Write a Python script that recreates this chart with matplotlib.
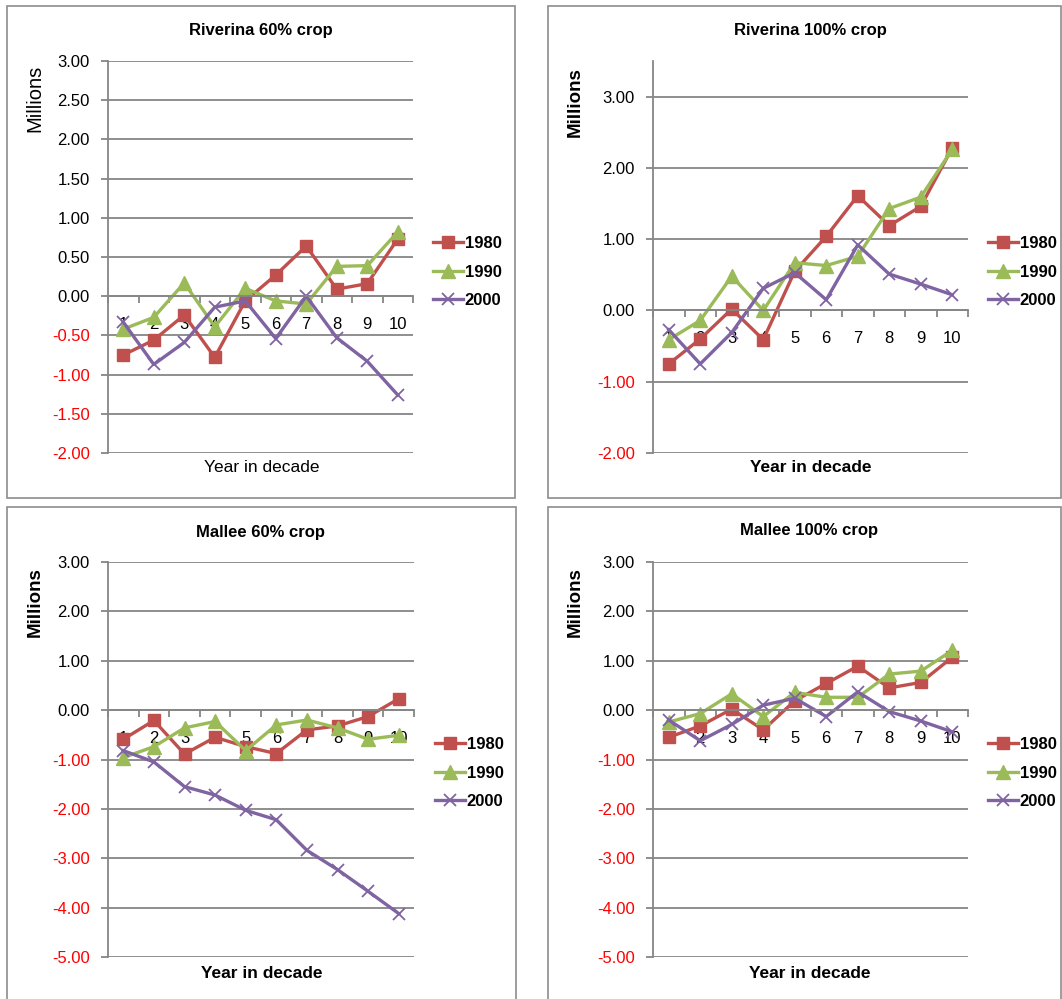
import matplotlib
matplotlib.use("Agg")
import matplotlib.pyplot as plt
from matplotlib.patches import Rectangle
from matplotlib.ticker import FuncFormatter

plt.rcParams['font.family'] = ['Liberation Sans', 'DejaVu Sans']

# Data (millions)
years = list(range(1, 11))
series_names = ["1980", "1990", "2000"]

riverina60_1980 = [-0.75, -0.56, -0.24, -0.78, -0.06, 0.27, 0.64, 0.09, 0.16, 0.73]
riverina60_1990 = [-0.42, -0.27, 0.17, -0.39, 0.10, -0.06, -0.10, 0.38, 0.39, 0.82]
riverina60_2000 = [-0.33, -0.87, -0.59, -0.14, -0.06, -0.54, 0.00, -0.53, -0.83, -1.26]

riverina100_1980 = [-0.75, -0.40, 0.02, -0.41, 0.55, 1.04, 1.61, 1.19, 1.46, 2.28]
riverina100_1990 = [-0.41, -0.14, 0.48, 0.00, 0.67, 0.63, 0.76, 1.43, 1.59, 2.26]
riverina100_2000 = [-0.27, -0.75, -0.31, 0.31, 0.53, 0.15, 0.92, 0.51, 0.37, 0.22]

mallee60_1980 = [-0.59, -0.21, -0.89, -0.55, -0.74, -0.88, -0.40, -0.32, -0.13, 0.23]
mallee60_1990 = [-0.96, -0.74, -0.36, -0.23, -0.82, -0.30, -0.20, -0.36, -0.59, -0.51]
mallee60_2000 = [-0.82, -1.05, -1.55, -1.72, -2.03, -2.22, -2.84, -3.23, -3.67, -4.12]

mallee100_1980 = [-0.55, -0.32, 0.02, -0.40, 0.19, 0.54, 0.89, 0.45, 0.56, 1.07]
mallee100_1990 = [-0.24, -0.07, 0.33, -0.13, 0.36, 0.26, 0.26, 0.73, 0.79, 1.21]
mallee100_2000 = [-0.20, -0.62, -0.29, 0.10, 0.24, -0.13, 0.37, -0.03, -0.22, -0.44]

# Excel 2007 style
colors = ['#C0504D', '#9BBB59', '#8064A2']
markers = ['s', '^', 'x']
grid_col = '#868686'

W, H = 1062, 999
fig = plt.figure(figsize=(W / 100, H / 100), dpi=100)


def fx(px):
    return px / W


def fy(py):
    return 1 - py / H


def fmt_tick(v, pos):
    return f"{v:.2f}"


def draw_panel(box, frame, title, title_xy, data, ylim, ystep,
               ylabel_xy, xlabel_xy, legend_xy, bold_labels):
    l, t, r, b = box
    ax = fig.add_axes([fx(l), fy(b), fx(r) - fx(l), fy(t) - fy(b)])

    # panel frame
    fl, ft, fr, fb = frame
    fig.patches.append(Rectangle((fx(fl), fy(fb)), fx(fr) - fx(fl), fy(ft) - fy(fb),
                                 transform=fig.transFigure, fill=False,
                                 edgecolor='#8c8c8c', lw=1.2))

    # tick values from the bottom up to the last full step
    ticks = []
    v = ylim[0]
    while v <= ylim[1] + 1e-9:
        ticks.append(round(v, 4))
        v += ystep

    # gridlines under the data
    for tv in ticks:
        ax.axhline(tv, color=grid_col, lw=1.3, zorder=1)

    for vals, name, c, m in zip(data, series_names, colors, markers):
        if m == 'x':
            ax.plot(years, vals, color=c, lw=2.4, marker=m, ms=9, mew=1.3,
                    label=name, zorder=2, clip_on=False)
        else:
            ax.plot(years, vals, color=c, lw=2.4, marker=m, ms=8.5 if m == 's' else 9.5,
                    mec=c, label=name, zorder=2, clip_on=False)

    ax.set_xlim(0.5, 10.5)
    ax.set_ylim(*ylim)
    ax.set_yticks(ticks)
    ax.yaxis.set_major_formatter(FuncFormatter(fmt_tick))

    for s in ['top', 'right']:
        ax.spines[s].set_visible(False)
    ax.spines['left'].set_color(grid_col)
    ax.spines['left'].set_linewidth(1.3)
    ax.spines['bottom'].set_position(('data', 0))
    ax.spines['bottom'].set_color(grid_col)
    ax.spines['bottom'].set_linewidth(1.3)

    ax.tick_params(axis='y', length=5, width=1.3, color=grid_col, pad=8,
                   labelsize=12)
    for lab, tv in zip(ax.get_yticklabels(), ticks):
        lab.set_color('red' if tv < 0 else 'black')

    ax.set_xticks(years)
    ax.set_xticks([x + 0.5 for x in range(0, 11)], minor=True)
    ax.tick_params(axis='x', which='major', length=0, pad=15, labelsize=12)
    ax.tick_params(axis='x', which='minor', length=5, width=1.3, color=grid_col,
                   direction='out')

    weight = 'bold' if bold_labels else 'normal'
    fig.text(fx(title_xy[0]), fy(title_xy[1]), title, ha='center', va='center',
             fontsize=12, fontweight='bold')
    fig.text(fx(ylabel_xy[0]), fy(ylabel_xy[1]), "Millions", rotation=90,
             ha='center', va='center', fontsize=13.5 if bold_labels else 14.5,
             fontweight=weight)
    fig.text(fx(xlabel_xy[0]), fy(xlabel_xy[1]), "Year in decade", ha='center',
             va='center', fontsize=12.5, fontweight=weight)

    ax.legend(loc='center left', bbox_to_anchor=(fx(legend_xy[0]), fy(legend_xy[1])),
              bbox_transform=fig.transFigure, frameon=False, borderpad=0,
              borderaxespad=0, handlelength=1.8, handletextpad=0.1,
              labelspacing=0.8, prop={'weight': 'bold', 'size': 12})
    return ax


draw_panel((108, 61, 413, 453), (7, 6, 515, 498), "Riverina 60% crop", (261, 30),
           [riverina60_1980, riverina60_1990, riverina60_2000], (-2, 3), 0.5,
           (35, 98), (262, 468), (433, 272), False)

draw_panel((653, 61, 968, 453), (548, 6, 1061, 498), "Riverina 100% crop", (810, 30),
           [riverina100_1980, riverina100_1990, riverina100_2000], (-2, 3.5), 1,
           (575, 102), (811, 468), (988, 272), True)

draw_panel((108, 562, 414, 957), (7, 507, 516, 1005), "Mallee 60% crop", (260, 532),
           [mallee60_1980, mallee60_1990, mallee60_2000], (-5, 3), 1,
           (35, 602), (262, 973), (435, 773), True)

draw_panel((653, 562, 968, 957), (548, 507, 1061, 1005), "Mallee 100% crop", (809, 531),
           [mallee100_1980, mallee100_1990, mallee100_2000], (-5, 3), 1,
           (575, 602), (810, 973), (988, 773), True)

fig.savefig("out.png", dpi=100)
